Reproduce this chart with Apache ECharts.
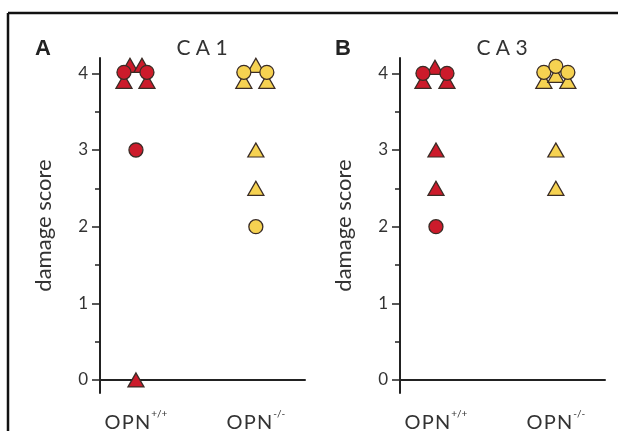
<!DOCTYPE html>
<html>
<head>
<meta charset="utf-8">
<script src="https://cdn.jsdelivr.net/npm/echarts@6/dist/echarts.min.js"></script>
<style>
html,body{margin:0;padding:0;background:#fff;}
#c{width:618px;height:431px;}
</style>
</head>
<body>
<div id="c"></div>
<script>
// ---- data ----
const panels = ['A', 'B'];
const panelTitles = ['CA1', 'CA3'];
const groups = ['OPN+/+', 'OPN-/-'];
const groupSup = ['+/+', '-/-'];
const yTicks = [0, 1, 2, 3, 4];
const yMinorTicks = [0.5, 1.5, 2.5, 3.5];
// damage scores per animal (circles and triangles = two markers in the original)
const A_wt_circle = [4, 4, 3];
const A_wt_triangle = [4, 4, 4, 4, 0];
const A_ko_circle = [4, 4, 2];
const A_ko_triangle = [4, 4, 4, 3, 2.5];
const B_wt_circle = [4, 4, 2];
const B_wt_triangle = [4, 4, 4, 3, 2.5];
const B_ko_circle = [4, 4, 4];
const B_ko_triangle = [4, 4, 4, 3, 2.5];

// ---- display stacking offsets (pixels) for overlapping points ----
const off_A_wt_circle = [[-12, -1], [11, -1], [0, 0]];
const off_A_wt_triangle = [[-12, 8], [11, 8], [-6, -8], [6, -8], [0, 0]];
const off_A_ko_circle = [[-12, -1], [11, -1], [0, 0]];
const off_A_ko_triangle = [[-12, 8], [11, 8], [0, -8], [0, 0], [0, 0]];
const off_B_wt_circle = [[-13, 0], [11, 0], [0, 0]];
const off_B_wt_triangle = [[-13, 8], [11, 8], [-1, -6], [0, 0], [0, 0]];
const off_B_ko_circle = [[-12, -1], [0, -7], [12, -1]];
const off_B_ko_triangle = [[-12, 8], [0, 2], [12, 8], [0, 0], [0, 0]];

const RED = '#cc1b2b';
const YEL = '#f6d251';
const EDGE = '#3a2c26';
const TXT = '#333';
const FONT = 'Lato, "Open Sans", sans-serif';

const chart = echarts.init(document.getElementById('c'), null, {renderer: 'canvas'});

const gridLefts = [100, 400];
const grids = gridLefts.map(l => ({left: l, width: 205, top: 58, height: 335, outerBoundsMode: 'none', containLabel: false}));

const xAxes = [0, 1].map(i => ({
  type: 'value', gridIndex: i, min: 0.7, max: 2.41,
  axisLine: {show: true, lineStyle: {color: '#222', width: 2}},
  axisTick: {show: false},
  splitLine: {show: false},
  axisLabel: {
    customValues: [1, 2],
    margin: 16,
    formatter: v => '{m|O\u200AP\u200AN}{s|' + groupSup[Math.round(v) - 1] + '}',
    rich: {
      m: {fontSize: 20, color: TXT, fontFamily: FONT, lineHeight: 24, verticalAlign: 'bottom'},
      s: {fontSize: 10, color: TXT, fontFamily: FONT, lineHeight: 24, verticalAlign: 'top', padding: [0, 0, 16, 1]}
    }
  }
}));

const yAxes = [];
[0, 1].forEach(i => {
  yAxes.push({
    type: 'value', gridIndex: i, position: 'left', min: -0.17, max: 4.2,
    name: 'damage score', nameLocation: 'middle', nameGap: 45,
    nameTextStyle: {fontSize: 22, color: TXT, fontFamily: FONT},
    axisLine: {show: true, lineStyle: {color: '#222', width: 2}},
    axisTick: {show: true, customValues: yTicks, length: 8, inside: false, lineStyle: {color: '#222', width: 1.5}},
    splitLine: {show: false},
    axisLabel: {customValues: yTicks, margin: 12, fontSize: 17, color: TXT, fontFamily: FONT}
  });
  yAxes.push({
    type: 'value', gridIndex: i, position: 'left', offset: 0, min: -0.17, max: 4.2,
    axisLine: {show: false, onZero: false},
    axisTick: {show: true, customValues: yMinorTicks, length: 5, lineStyle: {color: '#222', width: 1.5}},
    splitLine: {show: false},
    axisLabel: {show: false}
  });
});

function mk(panel, grp, shape, vals, offs, color) {
  return {
    type: 'scatter',
    xAxisIndex: panel, yAxisIndex: panel * 2,
    symbol: shape,
    symbolSize: shape === 'circle' ? 14 : [16, 14],
    z: shape === 'circle' ? 3 : 2,
    itemStyle: {color: color, borderColor: EDGE, borderWidth: 1.3, opacity: 1},
    emphasis: {disabled: true},
    data: vals.map((v, k) => ({value: [grp + 1, v], symbolOffset: offs[k]}))
  };
}

const series = [
  mk(0, 0, 'triangle', A_wt_triangle, off_A_wt_triangle, RED),
  mk(0, 0, 'circle', A_wt_circle, off_A_wt_circle, RED),
  mk(0, 1, 'triangle', A_ko_triangle, off_A_ko_triangle, YEL),
  mk(0, 1, 'circle', A_ko_circle, off_A_ko_circle, YEL),
  mk(1, 0, 'triangle', B_wt_triangle, off_B_wt_triangle, RED),
  mk(1, 0, 'circle', B_wt_circle, off_B_wt_circle, RED),
  mk(1, 1, 'triangle', B_ko_triangle, off_B_ko_triangle, YEL),
  mk(1, 1, 'circle', B_ko_circle, off_B_ko_circle, YEL)
];

const titles = [];
panels.forEach((p, i) => {
  titles.push({text: p, left: gridLefts[i] - 70, top: 33,
    textStyle: {fontSize: 22, fontWeight: 'bold', color: '#222', fontFamily: '"Liberation Sans", Arial, sans-serif'}});
  titles.push({text: panelTitles[i].split('').join(' '), left: gridLefts[i] + 97, top: 33, textAlign: 'center',
    textStyle: {fontSize: 21, fontWeight: 'normal', color: TXT, fontFamily: FONT}});
});

chart.setOption({
  animation: false,
  backgroundColor: '#fff',
  title: titles,
  grid: grids,
  xAxis: xAxes,
  yAxis: yAxes,
  series: series,
  graphic: [
    {type: 'line', shape: {x1: 8, y1: 13, x2: 618, y2: 13}, style: {stroke: '#111', lineWidth: 2.5}},
    {type: 'line', shape: {x1: 8, y1: 13, x2: 8, y2: 431}, style: {stroke: '#111', lineWidth: 2.5}}
  ]
});
</script>
</body>
</html>
